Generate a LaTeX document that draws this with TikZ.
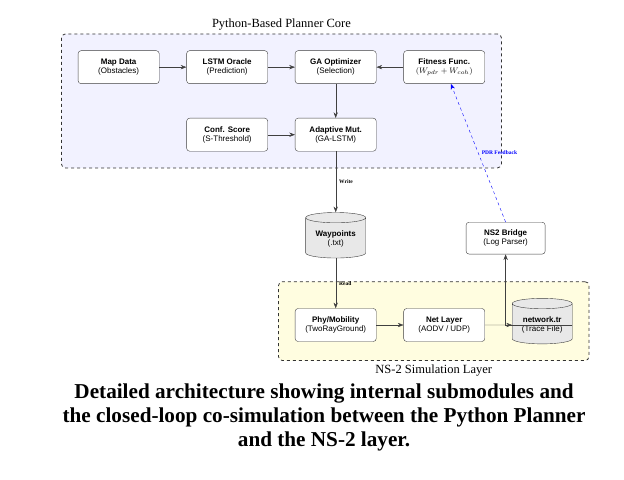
\documentclass[tikz,border=0pt]{standalone}
\usepackage{fontspec}
\setmainfont{Liberation Serif}
\setsansfont{Liberation Sans}
\usetikzlibrary{arrows.meta, positioning, shapes.geometric, fit, backgrounds}

\begin{document}
\begin{tikzpicture}[>={Stealth[length=2mm]},
  module/.style={draw=black!75, rounded corners=3pt, align=center, minimum width=2.85cm, minimum height=1.16cm, fill=white, font=\sffamily\footnotesize},
  store/.style={cylinder, shape border rotate=90, aspect=0.22, draw=black!75, align=center, fill=black!9, minimum width=2.11cm, minimum height=1.6cm, font=\sffamily\footnotesize},
  flow/.style={->, draw=black!75},
  layer/.style={draw=black!80, thick, dashed, rounded corners=4pt, inner sep=0.58cm},
  tag/.style={font=\fontsize{5.5}{6}\selectfont\bfseries}]
  \useasboundingbox (0,0) rectangle (21.93,-16.84);
  \node[module] (map) at (4.17,-2.36) {\textbf{Map Data}\\(Obstacles)};
  \node[module, right=0.95cm of map] (lstm) {\textbf{LSTM Oracle}\\(Prediction)};
  \node[module, right=0.95cm of lstm] (ga) {\textbf{GA Optimizer}\\(Selection)};
  \node[module, right=0.95cm of ga] (fitness) {\textbf{Fitness Func.}\\$(W_{pdr}+W_{coh})$};
  \node[module, below=1.2cm of ga] (mut) {\textbf{Adaptive Mut.}\\(GA-LSTM)};
  \node[module, left=0.95cm of mut] (conf) {\textbf{Conf. Score}\\(S-Threshold)};
  \node[store, below=2.14cm of mut] (wp) {\textbf{Waypoints}\\(.txt)};
  \node[module, below=1.76cm of wp] (phy) {\textbf{Phy/Mobility}\\(TwoRayGround)};
  \node[module, right=0.95cm of phy] (net) {\textbf{Net Layer}\\(AODV / UDP)};
  \node[store, right=0.95cm of net] (trace) {\textbf{network.tr}\\(Trace File)};
  \node[module, minimum width=2.78cm, minimum height=1.12cm] (bridge) at (17.77,-8.37) {\textbf{NS2 Bridge}\\(Log Parser)};
  \begin{scope}[on background layer]
    \node[layer, fill=blue!5, fit=(map)(fitness)(conf)] (core) {};
    \node[layer, fill=yellow!12, fit=(phy)(trace)] (ns) {};
  \end{scope}
  \node[above=0pt of core, font=\fontsize{12.5}{14}\selectfont] (coretitle) {Python-Based Planner Core};
  \node[below=0pt of ns, font=\fontsize{12.5}{14}\selectfont] (nstitle) {NS-2 Simulation Layer};
  \draw[flow] (map) -- (lstm);
  \draw[flow] (lstm) -- (ga);
  \draw[flow] (fitness) -- (ga);
  \draw[flow] (ga) -- (mut);
  \draw[flow] (conf) -- (mut);
  \draw[flow] (mut) -- (wp) node[midway, right, tag] (write) {Write};
  \draw[flow] (wp) -- (phy) node[midway, right, tag] (read) {Read};
  \draw[flow] (phy) -- (net);
  \draw[flow] (net) -- (trace);
  \draw[flow] (trace.east) -| (bridge);
  \draw[->, blue, dashed] (bridge.north) -- (fitness) node[midway, right, tag, text=blue] (pdr) {PDR Feedback};
  \node[font=\fontsize{21.2}{24}\selectfont\bfseries, align=center] (caption) at (11.39,-14.66) {Detailed architecture showing internal submodules and\\the closed-loop co-simulation between the Python Planner\\and the NS-2 layer.};
\end{tikzpicture}
\end{document}
